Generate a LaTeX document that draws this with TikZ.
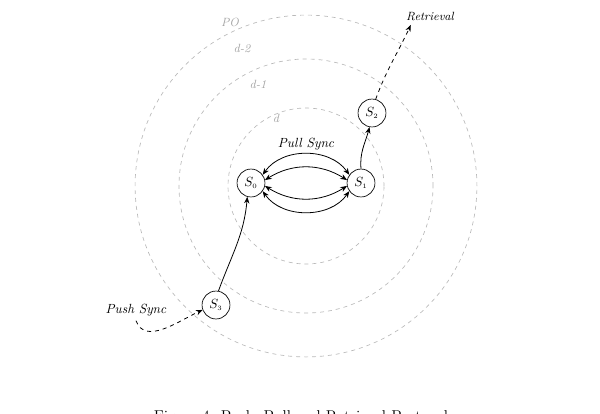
\documentclass[tikz,border=0pt]{standalone}
\usetikzlibrary{arrows.meta}
\definecolor{ringgray}{RGB}{185,185,185}
\definecolor{labgray}{RGB}{165,165,165}
\begin{document}
\begin{tikzpicture}[x=0.0265cm,y=-0.0265cm,
  state/.style={circle,draw,line width=0.5pt,minimum size=0.74cm,inner sep=0pt},
  ring/.style={draw=ringgray,dashed,line width=0.5pt,dash pattern=on 3pt off 3pt},
  ringlab/.style={text=labgray,font=\small\itshape},
  flow/.style={-{Stealth[length=5pt,width=4pt]},line width=0.6pt},
  sync/.style={{Stealth[length=5pt,width=4pt]}-{Stealth[length=5pt,width=4pt]},line width=0.6pt},
  >=Stealth]
\useasboundingbox (0,0) rectangle (600,413);
\coordinate (c) at (306,186);
\draw[ring] (c) circle (2.067cm);
\draw[ring] (c) circle (3.366cm);
\draw[ring] (c) circle (4.53cm);
\node[ringlab] (lpo) at (230,22) {PO};
\node[ringlab] (ld2) at (242,48) {d-2};
\node[ringlab] (ld1) at (258,84) {d-1};
\node[ringlab] (ld) at (276,118) {d};
\node[state] (s0) at (251,183) {$S_{\scriptscriptstyle 0}$};
\node[state] (s1) at (361,183) {$S_{\scriptscriptstyle 1}$};
\node[state] (s2) at (372,113) {$S_{\scriptscriptstyle 2}$};
\node[state] (s3) at (216,305) {$S_{\scriptscriptstyle 3}$};
\node[font=\itshape] (pull) at (306,144) {Pull Sync};
\node[font=\itshape] (push) at (136,310) {Push Sync};
\node[font=\small\itshape] (ret) at (430,16) {Retrieval};
\draw[sync] (s0.35) to[out=55,in=125] (s1.145);
\draw[sync] (s0.12) to[out=32,in=148] (s1.168);
\draw[sync] (s0.-12) to[out=-32,in=-148] (s1.-168);
\draw[sync] (s0.-35) to[out=-55,in=-125] (s1.-145);
\draw[flow] (s1.north) to[out=95,in=-105] (s2.-100);
\draw[flow] (s3.80) to[out=70,in=-95] (s0.-105);
\draw[flow,dashed] (s2.75) to[out=70,in=-115] (ret.-155);
\draw[flow,dashed] (push.south) to[out=-70,in=205] (s3.-160);
\node[font=\fontsize{11.8}{14}\selectfont] (cap) at (304,418) {Figure 4: Push, Pull and Retrieval Protocols};
\end{tikzpicture}
\end{document}
